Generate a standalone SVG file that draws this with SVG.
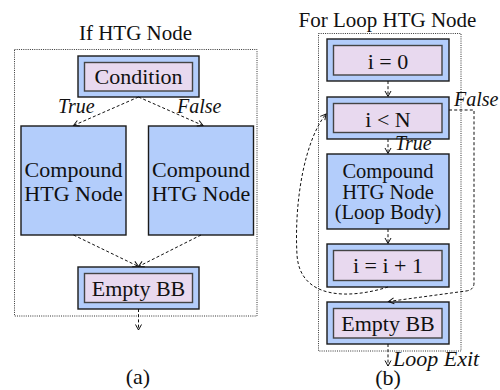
<svg xmlns="http://www.w3.org/2000/svg" width="500" height="390" viewBox="0 0 500 390">
<defs>
<style>
text{font-family:"Liberation Serif","Times New Roman",serif;fill:#111;font-size:22px;text-anchor:middle}
.title{font-size:21px}
.body{font-size:20.5px}
.it{font-style:italic;font-size:20px;text-anchor:start}
.frame{fill:none;stroke:#333;stroke-width:1;stroke-dasharray:1 1.2}
.outer{fill:#b3cdfb;stroke:#1a1a1a;stroke-width:1.4}
.inner{fill:#e8d9ef;stroke:#444;stroke-width:1.4}
.edge{fill:none;stroke:#111;stroke-width:1;stroke-dasharray:3 2.2;marker-end:url(#ah)}
</style>
<marker id="ah" markerUnits="userSpaceOnUse" markerWidth="12" markerHeight="12" viewBox="-7 -6 8 12" refX="0" refY="0" orient="auto">
<path d="M-5.5,-3 L0,0 L-5.5,3" fill="none" stroke="#111" stroke-width="1"/>
</marker>
</defs>

<!-- Panel (a) -->
<text class="title" x="135.5" y="40">If HTG Node</text>
<rect class="frame" x="14.5" y="49.5" width="242.5" height="266.5"/>

<g id="a_condition">
<rect class="outer" x="78" y="56" width="121" height="41"/>
<rect class="inner" x="84.5" y="62.5" width="108" height="28.5"/>
<text x="138.5" y="84">Condition</text>
</g>
<g id="a_compound_true">
<rect class="outer" x="21" y="126" width="105" height="109"/>
<text x="73.5" y="177">Compound</text>
<text x="73.5" y="201">HTG Node</text>
</g>
<g id="a_compound_false">
<rect class="outer" x="148.5" y="126" width="105" height="109"/>
<text x="201" y="177">Compound</text>
<text x="201" y="201">HTG Node</text>
</g>
<g id="a_empty">
<rect class="outer" x="78" y="267" width="121" height="42"/>
<rect class="inner" x="84.5" y="273.5" width="108" height="29"/>
<text x="138.5" y="296">Empty BB</text>
</g>
<text x="138" y="384">(a)</text>

<!-- Panel (b) -->
<text class="title" x="387.5" y="27">For Loop HTG Node</text>
<rect class="frame" x="318.5" y="33.5" width="142.5" height="317.5"/>

<g id="b_init">
<rect class="outer" x="327" y="39" width="122" height="42"/>
<rect class="inner" x="333.5" y="45.5" width="108.5" height="29.5"/>
<text x="388" y="69">i = 0</text>
</g>
<g id="b_cond">
<rect class="outer" x="327" y="97" width="122" height="42"/>
<rect class="inner" x="333.5" y="103.5" width="108.5" height="29"/>
<text x="388" y="127">i &lt; N</text>
</g>
<g id="b_body">
<rect class="outer" x="327" y="154" width="122" height="75"/>
<text class="body" x="388" y="178">Compound</text>
<text class="body" x="388" y="198.5">HTG Node</text>
<text class="body" x="388" y="219">(Loop Body)</text>
</g>
<g id="b_incr">
<rect class="outer" x="327" y="244" width="122" height="43"/>
<rect class="inner" x="333.5" y="250.5" width="108.5" height="30"/>
<text x="388" y="273">i = i + 1</text>
</g>
<g id="b_empty">
<rect class="outer" x="327" y="302" width="122" height="42"/>
<rect class="inner" x="333.5" y="308.5" width="108.5" height="29.5"/>
<text x="388" y="331">Empty BB</text>
</g>
<text x="388" y="385">(b)</text>

<g id="connectors">
<path class="edge" d="M138.5,97 L73.5,125.5"/>
<path class="edge" d="M138.5,97 L203,125.5"/>
<path class="edge" d="M73.5,235 L138.5,266.5"/>
<path class="edge" d="M201,235 L138.5,266.5"/>
<path class="edge" d="M138.5,309 L138.5,330"/>
<path class="edge" d="M388,81 L388,96.5"/>
<path class="edge" d="M388,139 L388,153.5"/>
<path class="edge" d="M388,229 L388,243.5"/>
<path class="edge" d="M388,287 C350,299 300,300 297,255 C294,200 305,140 326,114"/>
<path class="edge" d="M449,110 H474 V283 Q474,290 466,291 L388.5,301.5"/>
<path class="edge" d="M388,344 L388,366"/>
</g>

<text class="it" x="58" y="113">True</text>
<text class="it" x="177" y="113">False</text>
<text class="it" x="395" y="150">True</text>
<text class="it" x="454" y="106">False</text>
<text class="it" x="393" y="366" style="font-size:22px">Loop Exit</text>
</svg>
